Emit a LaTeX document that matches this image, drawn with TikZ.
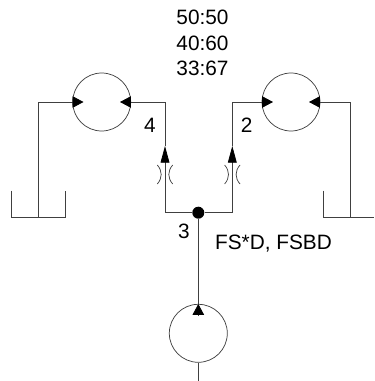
\documentclass[tikz,border=0pt]{standalone}
\usepackage{fontspec}
\setmainfont{Liberation Sans}
\usetikzlibrary{arrows.meta}
\tikzset{
  oil/.style={draw=black!75, line width=0.55pt},
  unit/.style={circle, draw=black!75, line width=0.55pt, minimum size=43.5pt, inner sep=0pt},
  head/.style={-{Triangle[length=8.2pt,width=8.6pt,sharp,fill=black,color=black]}},
  headflow/.style={-{Triangle[length=12.5pt,width=6.6pt,sharp,fill=black,color=black]}},
  lab/.style={font=\fontsize{15.6pt}{18pt}\selectfont, inner sep=0pt}
}
\begin{document}
\begin{tikzpicture}[x=0.75pt,y=-0.75pt]
    \useasboundingbox (0,0) rectangle (374,381);

    \def\xa{165}
    \def\xb{232.3}
    \def\xc{198.3}
    \def\ym{102}
    \def\yj{212.7}
    \def\yt{217.7}
    \def\ytop{190.7}

    % motors and pump
    \node[unit] (ml) at (101.7,\ym) {};
    \node[unit] (mr) at (291,\ym) {};
    \node[unit] (pump) at (\xc,333.3) {};
    \node[circle, fill=black, minimum size=9pt, inner sep=0pt] (j) at (\xc,\yj) {};

    \coordinate (tla) at (83.5,\ym);
    \coordinate (tlb) at (120,\ym);
    \coordinate (tra) at (273,\ym);
    \coordinate (trb) at (309,\ym);
    \coordinate (fa) at (\xa,146);
    \coordinate (fb) at (\xb,146);
    \coordinate (pb) at (\xc,316);
    \coordinate (pe) at (\xc,381);

    % tanks
    \coordinate (ta1) at (11.3,\ytop);
    \coordinate (ta2) at (11.3,\yt);
    \coordinate (ta3) at (65.7,\yt);
    \coordinate (ta4) at (65.7,\ytop);
    \coordinate (tam) at (38,\yt);
    \coordinate (tb1) at (323.3,\ytop);
    \coordinate (tb2) at (323.3,\yt);
    \coordinate (tb3) at (374,\yt);
    \coordinate (tbm) at (350.3,\yt);
    \draw[oil] (ta1) -- (ta2) -- (ta3) -- (ta4);
    \draw[oil] (tb1) -- (tb2) -- (tb3);

    % lines
    \draw[oil,head] (tam) |- (tla);
    \draw[oil,head] (tbm) |- (trb);
    \draw[oil,headflow] (j) -| (fa);
    \draw[oil,headflow] (j) -| (fb);
    \draw[oil,head] (fa) |- (tlb);
    \draw[oil,head] (fb) |- (tra);
    \draw[oil] (j) -- (pump.north);
    \draw[oil] (pump.south) -- (pe);
    \draw[oil,head] (pb) -- (pump.north);

    % restrictors
    \foreach \x in {\xa,\xb} {
        \draw[oil] (\x-7.7,165) .. controls (\x-2.5,171) and (\x-2.5,178) .. (\x-7.7,184);
        \draw[oil] (\x+7.7,165) .. controls (\x+2.5,171) and (\x+2.5,178) .. (\x+7.7,184);
    }

    \node[lab] (ra) at (202.5,17.5) {50:50};
    \node[lab] (rb) at (202.5,43) {40:60};
    \node[lab] (rc) at (202.5,68) {33:67};
    \node[lab] (p4) at (150,125) {4};
    \node[lab] (p2) at (246.7,125) {2};
    \node[lab] (p3) at (184,231) {3};
    \node[lab] (fs) at (273.5,244) {FS*D, FSBD};
\end{tikzpicture}
\end{document}
